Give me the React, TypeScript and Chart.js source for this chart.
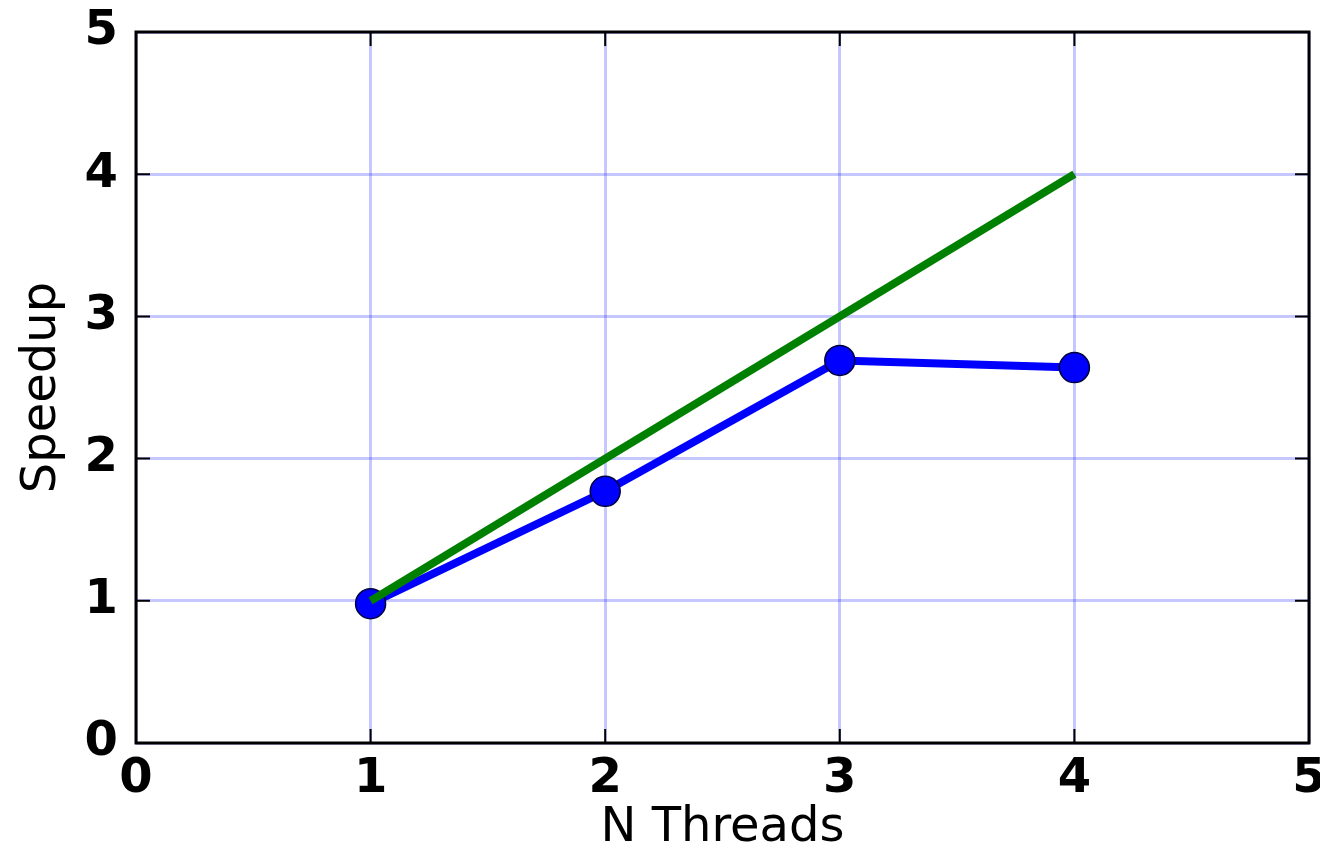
import React, { useEffect, useRef } from "react";
import { Chart, registerables } from "chart.js";

Chart.register(...registerables);

const threads = [1, 2, 3, 4];
const measuredSpeedup = [0.98, 1.77, 2.69, 2.64];
const idealSpeedup = [1, 2, 3, 4];
const xTicks = [0, 1, 2, 3, 4, 5];
const yTicks = [0, 1, 2, 3, 4, 5];

const framePlugin = {
  id: "frameAndTicks",
  afterDatasetsDraw(chart: any) {
    const { ctx, chartArea, scales } = chart;
    const { left, right, top, bottom } = chartArea;
    ctx.save();
    ctx.strokeStyle = "#000";
    ctx.lineWidth = 2;
    const len = 14;
    xTicks.forEach((v) => {
      const px = scales.x.getPixelForValue(v);
      ctx.beginPath();
      ctx.moveTo(px, bottom);
      ctx.lineTo(px, bottom - len);
      ctx.moveTo(px, top);
      ctx.lineTo(px, top + len);
      ctx.stroke();
    });
    yTicks.forEach((v) => {
      const py = scales.y.getPixelForValue(v);
      ctx.beginPath();
      ctx.moveTo(left, py);
      ctx.lineTo(left + len, py);
      ctx.moveTo(right, py);
      ctx.lineTo(right - len, py);
      ctx.stroke();
    });
    ctx.lineWidth = 3;
    ctx.strokeRect(left, top, right - left, bottom - top);
    ctx.restore();
  },
};

export default function App() {
  const ref = useRef<HTMLCanvasElement | null>(null);
  useEffect(() => {
    document.body.style.margin = "0";
    const canvas = ref.current;
    if (!canvas) return;
    const chart = new Chart(canvas, {
      type: "line",
      data: {
        datasets: [
          {
            label: "Ideal",
            data: threads.map((t, i) => ({ x: t, y: idealSpeedup[i] })),
            borderColor: "#008000",
            backgroundColor: "#008000",
            borderWidth: 8,
            pointRadius: 0,
            fill: false,
            order: 0,
          },
          {
            label: "Measured",
            data: threads.map((t, i) => ({ x: t, y: measuredSpeedup[i] })),
            borderColor: "#0000ff",
            backgroundColor: "#0000ff",
            borderWidth: 8,
            pointRadius: 15,
            pointBackgroundColor: "#0000ff",
            pointBorderColor: "#00003a",
            pointBorderWidth: 1.5,
            fill: false,
            order: 1,
          },
        ],
      },
      plugins: [framePlugin],
      options: {
        animation: false,
        responsive: false,
        events: [],
        layout: { autoPadding: false, padding: { top: 32, right: 11, left: 0, bottom: 0 } },
        plugins: { legend: { display: false }, tooltip: { enabled: false } },
        scales: {
          x: {
            type: "linear",
            min: 0,
            max: 5,
            afterBuildTicks: (s: any) => {
              s.ticks = xTicks.map((v) => ({ value: v }));
            },
            afterFit: (s: any) => {
              s.height = 110;
              s.paddingLeft = 0;
              s.paddingRight = 0;
            },
            ticks: {
              color: "#000",
              padding: 8,
              font: { family: "DejaVu Sans", size: 48, weight: "bold" },
            },
            grid: { color: "rgba(0,0,255,0.22)", lineWidth: 3, drawTicks: false },
            border: { display: false },
            title: {
              display: true,
              text: "N Threads",
              color: "#000",
              font: { family: "DejaVu Sans", size: 48, lineHeight: 1 },
              padding: { top: 0, bottom: 0 },
            },
          },
          y: {
            type: "linear",
            min: 0,
            max: 5,
            afterBuildTicks: (s: any) => {
              s.ticks = yTicks.map((v) => ({ value: v }));
            },
            afterFit: (s: any) => {
              s.width = 136;
              s.paddingTop = 0;
              s.paddingBottom = 0;
            },
            ticks: {
              color: "#000",
              padding: 18,
              font: { family: "DejaVu Sans", size: 48, weight: "bold" },
            },
            grid: { color: "rgba(0,0,255,0.22)", lineWidth: 3, drawTicks: false },
            border: { display: false },
            title: {
              display: true,
              text: "Speedup",
              color: "#000",
              font: { family: "DejaVu Sans", size: 48, lineHeight: 1 },
              padding: { top: 19, bottom: 0 },
            },
          },
        },
      },
    });
    return () => chart.destroy();
  }, []);
  return (
    <div style={{ width: 1320, height: 853 }}>
      <canvas ref={ref} width={1320} height={853} />
    </div>
  );
}
